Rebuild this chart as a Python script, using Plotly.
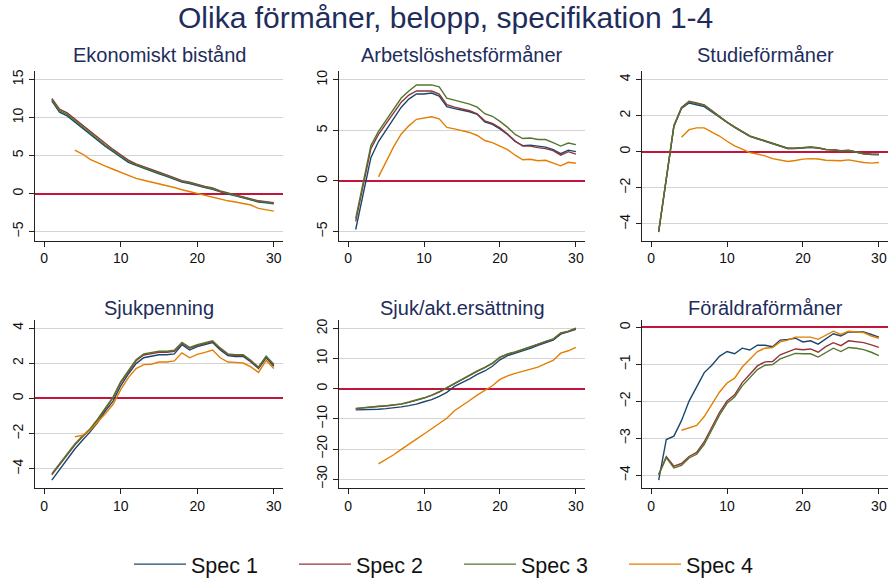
import plotly.graph_objects as go

# ---------------- data ----------------
x_all = list(range(1, 31))
x_s4 = list(range(4, 31))

series_names = ["Spec 1", "Spec 2", "Spec 3", "Spec 4"]
panel_titles = ["Ekonomiskt bistånd", "Arbetslöshetsförmåner", "Studieförmåner",
                "Sjukpenning", "Sjuk/akt.ersättning", "Föräldraförmåner"]
x_ticks = [0, 10, 20, 30]

# Ekonomiskt bistånd
ek_s1 = [12.2, 10.7, 10.2, 9.4, 8.6, 7.7, 6.9, 6.2, 5.5, 4.8, 4.1, 3.7, 3.3, 2.95, 2.6, 2.25, 1.85, 1.5, 1.3, 1.0,
         0.8, 0.55, 0.2, -0.05, -0.3, -0.55, -0.8, -1.1, -1.2, -1.35]
ek_s2 = [12.5, 11.1, 10.6, 9.8, 9.0, 8.1, 7.3, 6.5, 5.8, 5.1, 4.4, 3.9, 3.5, 3.15, 2.8, 2.45, 2.05, 1.7, 1.5, 1.2,
         0.95, 0.75, 0.35, 0.1, -0.15, -0.4, -0.65, -0.95, -1.05, -1.2]
ek_s3 = [12.35, 10.9, 10.4, 9.6, 8.8, 7.9, 7.1, 6.35, 5.65, 4.95, 4.25, 3.8, 3.4, 3.05, 2.7, 2.35, 1.95, 1.6, 1.4, 1.1,
         0.85, 0.65, 0.28, 0.02, -0.22, -0.48, -0.72, -1.02, -1.12, -1.28]
ek_s4 = [5.7, 5.2, 4.5, 4.0, 3.6, 3.2, 2.8, 2.3, 2.0, 1.75, 1.5, 1.35, 1.1, 0.8, 0.5, 0.25, 0.0, -0.25, -0.45,
         -0.75, -0.95, -1.1, -1.3, -1.5, -1.95, -2.1, -2.3]
ek_yticks = [-5, 0, 5, 10, 15]

# Arbetslöshetsförmåner
ar_s1 = [-4.8, -1.2, 2.3, 3.9, 5.0, 6.2, 7.3, 8.1, 8.6, 8.6, 8.7, 8.4, 7.35, 7.15, 7.0, 6.85, 6.6, 5.85, 5.6, 5.15,
         4.6, 3.9, 3.5, 3.55, 3.45, 3.35, 3.1, 2.7, 3.05, 2.9]
ar_s2 = [-4.0, -0.5, 3.2, 4.6, 5.7, 6.8, 7.8, 8.5, 8.9, 8.9, 8.9, 8.6, 7.55, 7.3, 7.1, 6.95, 6.65, 5.95, 5.7, 5.25,
         4.65, 3.95, 3.45, 3.45, 3.3, 3.2, 3.0, 2.55, 2.9, 2.65]
ar_s3 = [-3.7, -0.2, 3.5, 4.9, 6.0, 7.1, 8.2, 8.9, 9.5, 9.5, 9.5, 9.3, 8.2, 8.0, 7.8, 7.6, 7.3, 6.65, 6.4, 5.9,
         5.3, 4.6, 4.2, 4.25, 4.1, 4.1, 3.8, 3.45, 3.75, 3.6]
ar_s4 = [0.4, 1.9, 3.4, 4.65, 5.45, 6.1, 6.25, 6.35, 6.15, 5.3, 5.15, 5.0, 4.8, 4.5, 4.0, 3.8, 3.45, 3.1, 2.55,
         2.1, 2.15, 2.0, 2.05, 1.75, 1.5, 1.85, 1.75]
ar_yticks = [-5, 0, 5, 10]

# Studieförmåner
st_s1 = [-4.45, -1.5, 1.4, 2.4, 2.7, 2.6, 2.5, 2.2, 1.9, 1.6, 1.35, 1.1, 0.85, 0.72, 0.58, 0.42, 0.3, 0.18, 0.18,
         0.22, 0.24, 0.2, 0.12, 0.1, 0.04, 0.06, -0.04, -0.12, -0.16, -0.17]
st_s2 = [-4.4, -1.45, 1.45, 2.45, 2.8, 2.7, 2.6, 2.28, 1.96, 1.64, 1.38, 1.12, 0.88, 0.74, 0.6, 0.43, 0.32, 0.19,
         0.2, 0.23, 0.26, 0.22, 0.13, 0.11, 0.05, 0.08, -0.02, -0.1, -0.13, -0.14]
st_s3 = [-4.4, -1.45, 1.42, 2.43, 2.76, 2.66, 2.56, 2.25, 1.93, 1.62, 1.36, 1.1, 0.86, 0.72, 0.59, 0.42, 0.31, 0.18,
         0.19, 0.22, 0.25, 0.21, 0.12, 0.1, 0.04, 0.07, -0.03, -0.11, -0.14, -0.15]
st_s4 = [0.8, 1.22, 1.32, 1.32, 1.08, 0.87, 0.58, 0.32, 0.14, -0.05, -0.13, -0.23, -0.38, -0.45, -0.54, -0.49,
         -0.41, -0.38, -0.4, -0.47, -0.47, -0.5, -0.45, -0.54, -0.6, -0.63, -0.6]
st_yticks = [-4, -2, 0, 2, 4]

# Sjukpenning
sp_s1 = [-4.64, -4.03, -3.42, -2.87, -2.37, -1.9, -1.35, -0.7, -0.15, 0.72, 1.39, 1.98, 2.31, 2.38, 2.48, 2.48,
         2.53, 3.05, 2.75, 2.94, 3.05, 3.18, 2.75, 2.44, 2.38, 2.38, 2.07, 1.7, 2.31, 1.83]
sp_s2 = [-4.34, -3.77, -3.17, -2.65, -2.18, -1.76, -1.2, -0.56, 0.04, 0.9, 1.55, 2.14, 2.47, 2.53, 2.62, 2.62,
         2.68, 3.13, 2.85, 3.0, 3.11, 3.23, 2.82, 2.49, 2.44, 2.44, 2.12, 1.75, 2.36, 1.9]
sp_s3 = [-4.27, -3.7, -3.1, -2.59, -2.13, -1.72, -1.16, -0.52, 0.09, 0.96, 1.61, 2.2, 2.53, 2.59, 2.68, 2.68,
         2.74, 3.18, 2.9, 3.05, 3.16, 3.27, 2.87, 2.53, 2.48, 2.48, 2.16, 1.79, 2.4, 1.94]
sp_s4 = [-2.18, -2.09, -1.81, -1.35, -0.85, -0.33, 0.5, 1.18, 1.7, 1.92, 1.94, 2.07, 2.07, 2.13, 2.59, 2.31, 2.5,
         2.62, 2.75, 2.31, 2.07, 2.05, 2.01, 1.79, 1.48, 2.16, 1.7]
sp_yticks = [-4, -2, 0, 2, 4]

# Sjuk/akt.ersättning
sa_s1 = [-7.0, -7.0, -6.9, -6.8, -6.6, -6.4, -6.0, -5.6, -5.1, -4.3, -3.6, -2.5, -1.2, 0.8, 2.0, 3.3, 4.75, 5.9,
         7.45, 9.6, 11.0, 11.8, 12.5, 13.4, 14.4, 15.3, 16.1, 18.1, 18.8, 19.7]
sa_s2 = [-6.6, -6.3, -6.1, -5.9, -5.7, -5.5, -5.1, -4.5, -3.9, -3.1, -2.2, -1.1, 0.3, 1.7, 3.0, 4.4, 5.8, 7.0, 8.4,
         10.4, 11.5, 12.1, 12.9, 13.7, 14.7, 15.6, 16.4, 18.4, 19.0, 20.0]
sa_s3 = [-6.5, -6.2, -6.0, -5.8, -5.6, -5.4, -5.0, -4.4, -3.8, -3.0, -2.1, -1.0, 0.4, 1.8, 3.1, 4.5, 5.9, 7.1, 8.5,
         10.5, 11.6, 12.2, 13.0, 13.8, 14.8, 15.7, 16.5, 18.5, 19.1, 20.1]
sa_s4 = [-24.9, -23.5, -21.9, -20.1, -18.5, -16.7, -15.0, -13.3, -11.6, -9.8, -7.3, -5.7, -3.9, -2.1, -0.6, 1.0,
         3.1, 4.3, 5.1, 5.8, 6.5, 7.2, 8.3, 9.4, 11.8, 12.6, 13.7]
sa_yticks = [-30, -20, -10, 0, 10, 20]

# Föräldraförmåner
fo_s1 = [-4.13, -3.03, -2.94, -2.52, -1.99, -1.59, -1.22, -1.02, -0.78, -0.65, -0.71, -0.56, -0.61, -0.48, -0.48,
         -0.52, -0.34, -0.32, -0.29, -0.39, -0.36, -0.45, -0.32, -0.17, -0.23, -0.12, -0.12, -0.12, -0.19, -0.26]
fo_s2 = [-3.97, -3.49, -3.75, -3.68, -3.49, -3.38, -3.09, -2.7, -2.3, -1.99, -1.82, -1.49, -1.27, -1.04, -0.93,
         -0.92, -0.74, -0.67, -0.58, -0.6, -0.58, -0.67, -0.52, -0.41, -0.49, -0.36, -0.39, -0.41, -0.47, -0.54]
fo_s3 = [-3.99, -3.52, -3.8, -3.73, -3.53, -3.43, -3.16, -2.76, -2.37, -2.05, -1.88, -1.58, -1.35, -1.14, -1.02,
         -1.0, -0.85, -0.78, -0.7, -0.71, -0.71, -0.8, -0.67, -0.56, -0.65, -0.54, -0.56, -0.6, -0.67, -0.76]
fo_s4 = [-2.78, -2.72, -2.65, -2.41, -2.08, -1.75, -1.5, -1.37, -1.07, -0.87, -0.65, -0.56, -0.54, -0.39, -0.34,
         -0.26, -0.26, -0.26, -0.32, -0.21, -0.1, -0.19, -0.1, -0.12, -0.14, -0.23, -0.29]
fo_yticks = [-4, -3, -2, -1, 0]

# ---------------- layout / styling ----------------
W, H = 890, 585
colors = ["#1a476f", "#90353b", "#55752f", "#e37e00"]
title_color = "#1e2d5c"
FONT = "Arial, Liberation Sans, sans-serif"

panels = [
    ([ek_s1, ek_s2, ek_s3, ek_s4], ek_yticks, [-6.17, 16.06]),
    ([ar_s1, ar_s2, ar_s3, ar_s4], ar_yticks, [-5.89, 10.84]),
    ([st_s1, st_s2, st_s3, st_s4], st_yticks, [-4.92, 4.45]),
    ([sp_s1, sp_s2, sp_s3, sp_s4], sp_yticks, [-5.08, 4.47]),
    ([sa_s1, sa_s2, sa_s3, sa_s4], sa_yticks, [-32.9, 22.9]),
    ([fo_s1, fo_s2, fo_s3, fo_s4], fo_yticks, [-4.34, 0.21]),
]

col_px = [(35, 283), (339, 585), (642, 888)]
row_px = [(73, 246), (327, 499)]
title_y_px = [56, 315]

fig = go.Figure()
annotations = []
layout_axes = {}

for i, (series, yticks, yrange) in enumerate(panels):
    r, c = divmod(i, 3)
    n = i + 1
    xa = "x" if n == 1 else f"x{n}"
    ya = "y" if n == 1 else f"y{n}"
    for k, ys in enumerate(series):
        xs = x_s4 if k == 3 else x_all
        fig.add_trace(go.Scatter(
            x=xs, y=ys, mode="lines", name=series_names[k],
            line=dict(color=colors[k], width=1.4),
            xaxis=xa, yaxis=ya, showlegend=(i == 0),
            legendgroup=series_names[k],
        ))
    x0, x1 = col_px[c]
    y0, y1 = row_px[r]
    xkey = "xaxis" if n == 1 else f"xaxis{n}"
    ykey = "yaxis" if n == 1 else f"yaxis{n}"
    layout_axes[xkey] = dict(
        domain=[x0 / W, x1 / W], anchor=ya, range=[-1.2, 31.2],
        tickmode="array", tickvals=x_ticks,
        showline=True, linecolor="#222222", linewidth=1,
        ticks="outside", ticklen=5, tickcolor="#222222",
        showgrid=False, zeroline=False, automargin=False,
        tickfont=dict(family=FONT, size=14, color="#111111"),
    )
    layout_axes[ykey] = dict(
        domain=[1 - y1 / H, 1 - y0 / H], anchor=xa, range=yrange,
        tickmode="array", tickvals=yticks, tickangle=-90,
        showline=True, linecolor="#222222", linewidth=1,
        ticks="outside", ticklen=5, tickcolor="#222222",
        showgrid=True, gridcolor="#d4d4d4", gridwidth=1,
        zeroline=True, zerolinecolor="#c4143c", zerolinewidth=1.5,
        automargin=False,
        tickfont=dict(family=FONT, size=14, color="#111111"),
    )
    annotations.append(dict(
        text=panel_titles[i], xref="paper", yref="paper",
        x=(x0 + x1) / 2 / W, y=1 - title_y_px[r] / H,
        xanchor="center", yanchor="middle", showarrow=False,
        font=dict(family=FONT, size=20, color=title_color),
    ))

annotations.append(dict(
    text="Olika förmåner, belopp, specifikation 1-4", xref="paper", yref="paper",
    x=0.5, y=1 - 18 / H, xanchor="center", yanchor="middle", showarrow=False,
    font=dict(family=FONT, size=30, color=title_color),
))

fig.update_layout(
    width=W, height=H, autosize=False,
    margin=dict(l=0, r=0, t=0, b=0),
    paper_bgcolor="white", plot_bgcolor="white",
    annotations=annotations,
    legend=dict(
        orientation="h", x=129 / W, y=1 - 577 / H, xanchor="left", yanchor="middle",
        font=dict(family=FONT, size=21.5, color="#111111"),
        itemwidth=52, entrywidth=98, entrywidthmode="pixels",
        bgcolor="rgba(0,0,0,0)",
    ),
    **layout_axes,
)

fig.write_html(
    "out.html",
    config={"displayModeBar": False},
    post_script="document.body.style.margin='0';document.body.style.overflow='hidden';",
)
